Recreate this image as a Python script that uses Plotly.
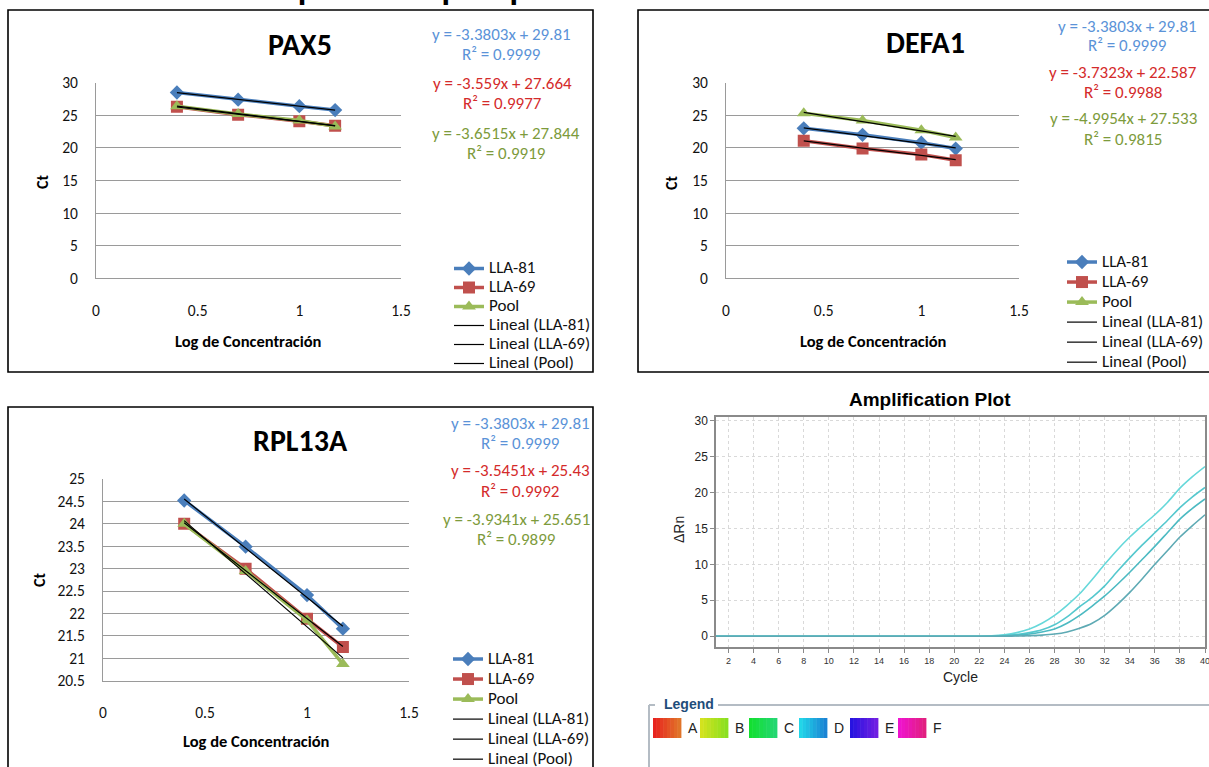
import plotly.graph_objects as go
import numpy as np

W, H = 1209, 767
def fx(p): return p / W
def fy(p): return 1 - p / H

# ---------------- data ----------------
log_conc = [0.398, 0.699, 1.0, 1.176]
series_names = ["LLA-81", "LLA-69", "Pool"]

pax5_lla81 = [28.5, 27.4, 26.4, 25.8]
pax5_lla69 = [26.3, 25.1, 24.1, 23.4]
pax5_pool = [26.4, 25.2, 24.2, 23.3]

defa1_lla81 = [23.0, 22.0, 20.8, 19.9]
defa1_lla69 = [21.1, 19.9, 19.0, 18.1]
defa1_pool = [25.3, 24.2, 22.7, 21.6]

rpl13a_lla81 = [24.52, 23.49, 22.41, 21.66]
rpl13a_lla69 = [24.0, 23.0, 21.88, 21.25]
rpl13a_pool = [24.0, 22.95, 21.85, 20.87]

pax5_eqs = ["y = -3.3803x + 29.81", "R² = 0.9999", "y = -3.559x + 27.664", "R² = 0.9977",
            "y = -3.6515x + 27.844", "R² = 0.9919"]
defa1_eqs = ["y = -3.3803x + 29.81", "R² = 0.9999", "y = -3.7323x + 22.587", "R² = 0.9988",
             "y = -4.9954x + 27.533", "R² = 0.9815"]
rpl13a_eqs = ["y = -3.3803x + 29.81", "R² = 0.9999", "y = -3.5451x + 25.43", "R² = 0.9992",
              "y = -3.9341x + 25.651", "R² = 0.9899"]

cycles = list(range(1, 41))
amp_curve1 = [0]*22 + [0.05, 0.2, 0.5, 1.0, 1.8, 2.9, 4.3, 5.9, 7.9, 10.0, 12.0, 13.8, 15.4, 16.9, 18.6, 20.6, 22.2, 23.6]
amp_curve2 = [0]*22 + [0.02, 0.1, 0.25, 0.5, 0.9, 1.6, 2.7, 4.1, 5.4, 7.0, 9.0, 10.9, 12.7, 14.4, 16.1, 17.9, 19.4, 20.7]
amp_curve3 = [0]*22 + [0.0, 0.05, 0.15, 0.3, 0.6, 1.0, 1.8, 2.9, 4.2, 5.6, 7.2, 8.9, 10.7, 12.5, 14.4, 16.3, 17.8, 19.1]
amp_curve4 = [0]*22 + [0.0, 0.0, 0.03, 0.08, 0.15, 0.3, 0.6, 1.1, 1.8, 2.9, 4.4, 6.1, 8.0, 10.0, 11.9, 13.8, 15.4, 16.9]
amp_colors = ["#66d8da", "#55c8ce", "#4cbac2", "#5eaab4"]

legend_labels = ["A", "B", "C", "D", "E", "F"]
legend_grad = [("#e81e1e", "#e07a2a"), ("#d8e21e", "#86e020"), ("#12e02c", "#24d676"),
               ("#22dcea", "#1a7ed2"), ("#2212e0", "#7420e2"), ("#f012d4", "#e0207a")]

# ---------------- styles ----------------
XL_FONT = "Carlito, Lato, sans-serif"
AR_FONT = "Liberation Sans, Arial, sans-serif"
ser_colors = ["#4a7ebb", "#c0504d", "#9bbb59"]
ser_symbols = ["diamond", "square", "triangle-up"]
ser_sizes = [11, 12, 12]
eq_colors = ["#5b93d8", "#d42b2b", "#7d9b3c"]
grid_col = "#9a9a9a"

panels = [
    dict(name="PAX5", data=[pax5_lla81, pax5_lla69, pax5_pool], eqs=pax5_eqs,
         x0=96, x1=401, y0=82.7, y1=278.3, yr=[0, 30], dt=5, legend="legend",
         leg=(449, 254), legfs=12.15, title=(300, 44), ct=(42, 182), xt=(248, 341),
         eqx=[501, 501, 502, 502, 506, 506], eqy=[35, 55, 83, 103, 133, 153],
         box=(8, 10, 593, 372)),
    dict(name="DEFA1", data=[defa1_lla81, defa1_lla69, defa1_pool], eqs=defa1_eqs,
         x0=726, x1=1019, y0=82.7, y1=278.3, yr=[0, 30], dt=5, legend="legend2",
         leg=(1062, 247), legfs=13.1, title=(925, 43), ct=(671, 183), xt=(873, 341),
         eqx=[1127, 1127, 1123, 1123, 1123, 1123], eqy=[26, 46, 72, 93, 118, 139],
         box=(638, 10, 1220, 372)),
    dict(name="RPL13A", data=[rpl13a_lla81, rpl13a_lla69, rpl13a_pool], eqs=rpl13a_eqs,
         x0=103, x1=409, y0=479, y1=680.7, yr=[20.5, 25], dt=0.5, legend="legend3",
         leg=(448, 644), legfs=13.1, title=(300, 440), ct=(39, 580), xt=(256, 741),
         eqx=[520, 520, 520, 520, 516, 516], eqy=[423, 443, 471, 491, 519, 539],
         box=(8, 407, 593, 790)),
]

def span(t, fs=17):
    return f"<span style='font-size:{fs}px'>{t}</span>"

def txt(px, py, text, size, color="#000", family=XL_FONT, xanchor="center", yanchor="middle", angle=0):
    return dict(x=fx(px), y=fy(py), xref="paper", yref="paper", text=text, showarrow=False,
                xanchor=xanchor, yanchor=yanchor, textangle=angle,
                font=dict(family=family, size=size, color=color))

fig = go.Figure()
annotations = []
shapes = []
layout = {}

for i, p in enumerate(panels):
    sfx = "" if i == 0 else str(i + 1)
    xref, yref = "x" + sfx, "y" + sfx
    # series
    for k in range(3):
        fig.add_trace(go.Scatter(
            x=log_conc, y=p["data"][k], mode="lines+markers", name=span(series_names[k]),
            line=dict(color=ser_colors[k], width=3.5),
            marker=dict(symbol=ser_symbols[k], size=ser_sizes[k], color=ser_colors[k]),
            xaxis=xref, yaxis=yref, legend=p["legend"], hoverinfo="x+y"))
    # linear trendlines (least squares fit of each series)
    for k in range(3):
        slope, icpt = np.polyfit(log_conc, p["data"][k], 1)
        xs = [log_conc[0], log_conc[-1]]
        fig.add_trace(go.Scatter(
            x=xs, y=[slope * v + icpt for v in xs], mode="lines",
            name=span(f"Lineal ({series_names[k]})"),
            line=dict(color="#000000", width=1.2),
            xaxis=xref, yaxis=yref, legend=p["legend"], hoverinfo="skip"))
    layout["xaxis" + sfx] = dict(
        domain=[fx(p["x0"]), fx(p["x1"])], range=[0, 1.5], dtick=0.5, tick0=0,
        anchor=yref, showgrid=False, zeroline=False, showline=True, linecolor=grid_col,
        linewidth=1, ticks="", ticklabelstandoff=18,
        tickfont=dict(family=XL_FONT, size=15.5, color="#111"), fixedrange=True)
    layout["yaxis" + sfx] = dict(
        domain=[fy(p["y1"]), fy(p["y0"])], range=p["yr"], dtick=p["dt"], tick0=p["yr"][0],
        anchor=xref, showgrid=True, gridcolor=grid_col, gridwidth=1, zeroline=False,
        showline=True, linecolor=grid_col, linewidth=1, ticks="", ticklabelstandoff=14,
        tickfont=dict(family=XL_FONT, size=15.5, color="#111"), fixedrange=True)
    layout[p["legend"]] = dict(
        x=fx(p["leg"][0]), y=fy(p["leg"][1]), xanchor="left", yanchor="top",
        xref="paper", yref="paper", bgcolor="rgba(0,0,0,0)", borderwidth=0,
        font=dict(family=XL_FONT, size=p["legfs"], color="#111"), itemwidth=30,
        tracegroupgap=0, traceorder="normal")
    # texts
    annotations.append(txt(*p["title"], "<b>" + p["name"] + "</b>", 30))
    annotations.append(txt(*p["ct"], "<b>Ct</b>", 16, angle=-90))
    annotations.append(txt(*p["xt"], "<b>Log de Concentración</b>", 16.5))
    for j, t in enumerate(p["eqs"]):
        annotations.append(txt(p["eqx"][j], p["eqy"][j], t, 17, color=eq_colors[j // 2]))
    bx = p["box"]
    shapes.append(dict(type="rect", xref="paper", yref="paper", x0=fx(bx[0]), x1=fx(bx[2]),
                       y0=fy(bx[3]), y1=fy(bx[1]), line=dict(color="#000", width=1.6),
                       fillcolor="rgba(0,0,0,0)", layer="below"))

# ---------------- amplification plot ----------------
for k, cv in enumerate([amp_curve1, amp_curve2, amp_curve3, amp_curve4]):
    fig.add_trace(go.Scatter(x=cycles, y=cv, mode="lines",
                             line=dict(color=amp_colors[k], width=1.6, shape="spline", smoothing=0.6),
                             xaxis="x4", yaxis="y4", showlegend=False, hoverinfo="x+y"))

layout["xaxis4"] = dict(domain=[fx(716), fx(1205)], range=[1, 40], tickvals=list(range(2, 41, 2)),
                        anchor="y4", showgrid=True, gridcolor="#d9d9d9", griddash="dot", zeroline=False,
                        showline=True, linecolor="#8a8a8a", linewidth=1.5, mirror=True,
                        ticks="outside", ticklen=4, tickcolor="#8a8a8a", ticklabeloverflow="allow",
                        tickfont=dict(family=AR_FONT, size=9, color="#333"), fixedrange=True)
layout["yaxis4"] = dict(domain=[fy(647), fy(417)], range=[-1.5, 30.5], tickvals=list(range(0, 31, 5)),
                        anchor="x4", showgrid=True, gridcolor="#d9d9d9", griddash="dot", zeroline=False,
                        showline=True, linecolor="#8a8a8a", linewidth=1.5, mirror=True,
                        ticks="outside", ticklen=4, tickcolor="#8a8a8a",
                        tickfont=dict(family=AR_FONT, size=12, color="#222"), fixedrange=True)
annotations += [
    txt(930, 399, "<b>Amplification Plot</b>", 19, family=AR_FONT),
    txt(679, 530, "ΔRn", 14, color="#222", family=AR_FONT, angle=-90),
    txt(960, 677, "Cycle", 14, color="#222", family=AR_FONT),
    txt(662, 704, "<b>Legend</b>", 14, color="#1f4d7a", family=AR_FONT, xanchor="left"),
    txt(300, 11, "<b>en las 4 diluciones probadas por qPCR</b>", 35, yanchor="bottom"),
]
# legend frame
frame_col = "#b4bcc4"
shapes += [
    dict(type="line", xref="paper", yref="paper", x0=fx(649), x1=fx(655), y0=fy(705), y1=fy(705), line=dict(color=frame_col, width=2)),
    dict(type="line", xref="paper", yref="paper", x0=fx(718), x1=fx(1215), y0=fy(705), y1=fy(705), line=dict(color=frame_col, width=2)),
    dict(type="line", xref="paper", yref="paper", x0=fx(649), x1=fx(649), y0=fy(705), y1=fy(780), line=dict(color=frame_col, width=2)),
]

def mix(c1, c2, t):
    a = [int(c1[i:i + 2], 16) for i in (1, 3, 5)]
    b = [int(c2[i:i + 2], 16) for i in (1, 3, 5)]
    return "#%02x%02x%02x" % tuple(round(a[i] + (b[i] - a[i]) * t) for i in range(3))

sw_x = [653, 700, 749, 799, 850, 898]
for k, lab in enumerate(legend_labels):
    nseg = 8
    wdt = 28.0
    for s in range(nseg):
        xa = sw_x[k] + wdt * s / nseg
        xb = sw_x[k] + wdt * (s + 1) / nseg
        shapes.append(dict(type="rect", xref="paper", yref="paper", x0=fx(xa), x1=fx(xb + 0.4),
                           y0=fy(738), y1=fy(718), line=dict(width=0),
                           fillcolor=mix(legend_grad[k][0], legend_grad[k][1], (s + 0.5) / nseg)))
    annotations.append(txt(sw_x[k] + 33, 728, lab, 14, color="#222", family=AR_FONT, xanchor="left"))

fig.update_layout(
    width=W, height=H, margin=dict(l=0, r=0, t=0, b=0, pad=0, autoexpand=False),
    paper_bgcolor="white", plot_bgcolor="rgba(0,0,0,0)",
    annotations=annotations, shapes=shapes, **layout)

fig.write_html("out.html", config={"displayModeBar": False},
               post_script="document.body.style.margin='0';document.body.style.overflow='hidden';")
